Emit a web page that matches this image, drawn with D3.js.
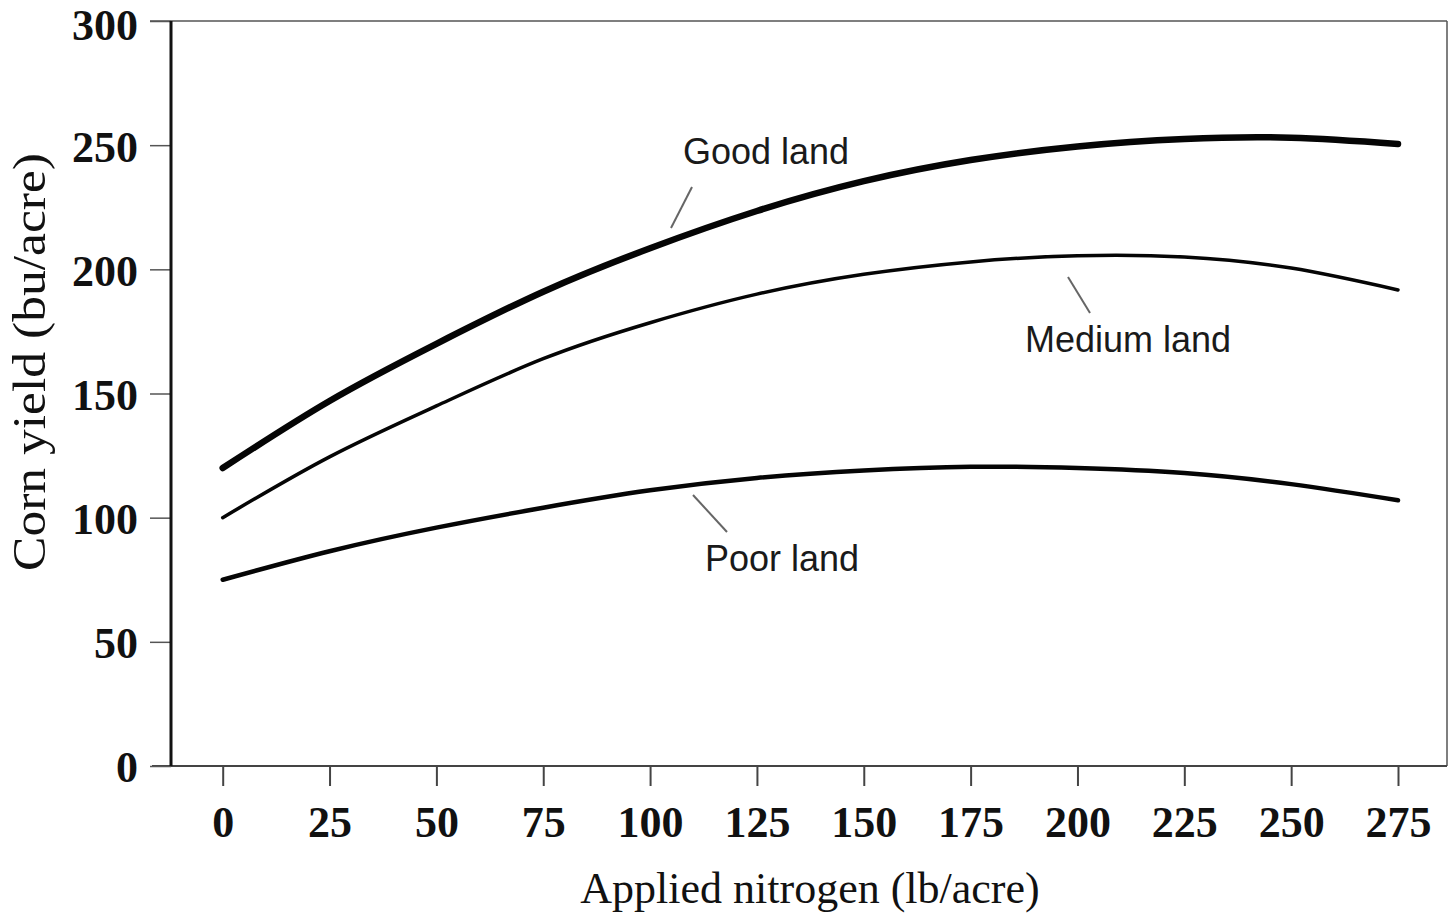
<!DOCTYPE html>
<html>
<head>
<meta charset="utf-8">
<script src="https://cdn.jsdelivr.net/npm/d3@7"></script>
<style>
  body { margin: 0; background: #fff; }
  svg { display: block; }
  .tick-lbl { font-family: "Liberation Serif", "Times New Roman", serif; font-weight: bold; font-size: 44px; fill: #111; }
  .axis-title { font-family: "Liberation Serif", "Times New Roman", serif; font-size: 44px; fill: #111; }
  .curve-lbl { font-family: "Liberation Sans", Arial, sans-serif; font-size: 36px; fill: #1a1a1a; }
</style>
</head>
<body>
<div id="chart"></div>
<script>
// --- data ---
const nitrogen = [0, 25, 50, 75, 100, 125, 150, 175, 200, 225, 250, 275];
const goodLand = [120, 147, 170, 191, 208.5, 223.5, 235.5, 244, 249.5, 252.5, 253, 250.5];
const mediumLand = [100, 124.5, 145, 164, 178.5, 190, 198, 203, 205.5, 205, 200.5, 191.7];
const poorLand = [75, 86.5, 96, 104, 111, 116, 119, 120.5, 120, 118, 113.5, 107];
const yTicks = [0, 50, 100, 150, 200, 250, 300];
const xTicks = nitrogen;

const W = 1449, H = 917;
const svg = d3.select("#chart").append("svg").attr("width", W).attr("height", H);

// scales
const x = d3.scaleLinear().domain([0, 275]).range([222.7, 1398]);
const y = d3.scaleLinear().domain([0, 300]).range([766, 21]);

const frameLeft = 171, frameRight = 1447;

// frame: thin grey top/right/bottom, thick black left
svg.append("line").attr("x1", 150).attr("x2", frameRight).attr("y1", y(300)).attr("y2", y(300))
  .attr("stroke", "#555").attr("stroke-width", 1.5);
svg.append("line").attr("x1", frameRight).attr("x2", frameRight).attr("y1", y(300)).attr("y2", y(0))
  .attr("stroke", "#555").attr("stroke-width", 1.5);
svg.append("line").attr("x1", 152).attr("x2", frameRight).attr("y1", y(0)).attr("y2", y(0))
  .attr("stroke", "#444").attr("stroke-width", 2);

// y axis
const yAxis = svg.append("g").attr("transform", `translate(${frameLeft},0)`)
  .call(d3.axisLeft(y).tickValues(yTicks).tickSize(21).tickPadding(12).tickFormat(d3.format("d")));
yAxis.select(".domain").remove();
yAxis.selectAll(".tick line").attr("stroke", "#555").attr("stroke-width", 1.5);
yAxis.selectAll(".tick text").attr("class", "tick-lbl")
  .attr("dy", d => d === 300 ? "0.42em" : "0.36em");
svg.append("line").attr("x1", frameLeft).attr("x2", frameLeft).attr("y1", y(300)).attr("y2", y(0))
  .attr("stroke", "#111").attr("stroke-width", 3);

// x axis
const xAxis = svg.append("g").attr("transform", `translate(0,${y(0)})`)
  .call(d3.axisBottom(x).tickValues(xTicks).tickSize(20).tickFormat(d3.format("d")));
xAxis.select(".domain").remove();
xAxis.selectAll(".tick line").attr("stroke", "#444").attr("stroke-width", 2);
xAxis.selectAll(".tick text").attr("class", "tick-lbl").attr("y", 71).attr("dy", 0);

// axis titles
svg.append("text").attr("class", "axis-title")
  .attr("x", 810).attr("y", 903).attr("text-anchor", "middle")
  .text("Applied nitrogen (lb/acre)");
svg.append("text").attr("class", "axis-title")
  .attr("transform", "translate(45,362) rotate(-90)")
  .attr("text-anchor", "middle")
  .style("font-size", "47px")
  .attr("textLength", 418).attr("lengthAdjust", "spacingAndGlyphs")
  .text("Corn yield (bu/acre)");

// curves
const line = d3.line().x((d, i) => x(nitrogen[i])).y(d => y(d)).curve(d3.curveNatural);
const series = [
  { name: "Good land", values: goodLand, width: 6.5 },
  { name: "Medium land", values: mediumLand, width: 3.5 },
  { name: "Poor land", values: poorLand, width: 4.5 }
];
svg.selectAll("path.curve").data(series).enter().append("path")
  .attr("class", "curve")
  .attr("d", d => line(d.values))
  .attr("fill", "none").attr("stroke", "#050505")
  .attr("stroke-width", d => d.width)
  .attr("stroke-linecap", "round").attr("stroke-linejoin", "round");

// labels and leader lines
const labels = [
  { text: "Good land", tx: 683, ty: 164, l: [692, 187, 671, 228] },
  { text: "Medium land", tx: 1025, ty: 352, l: [1068, 277, 1090, 313] },
  { text: "Poor land", tx: 705, ty: 571, l: [693, 495, 727, 532] }
];
labels.forEach(d => {
  svg.append("line").attr("x1", d.l[0]).attr("y1", d.l[1]).attr("x2", d.l[2]).attr("y2", d.l[3])
    .attr("stroke", "#666").attr("stroke-width", 2);
  svg.append("text").attr("class", "curve-lbl").attr("x", d.tx).attr("y", d.ty).text(d.text);
});
</script>
</body>
</html>
